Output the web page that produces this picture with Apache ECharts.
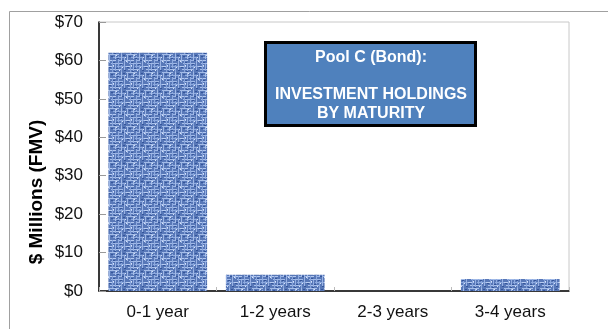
<!DOCTYPE html>
<html>
<head>
<meta charset="utf-8">
<script src="https://cdn.jsdelivr.net/npm/echarts@6/dist/echarts.min.js"></script>
<style>
html,body{margin:0;padding:0;background:#fff;}
#c{width:608px;height:329px;}
</style>
</head>
<body>
<div id="c"></div>
<script>
const categories = ['0-1 year', '1-2 years', '2-3 years', '3-4 years'];
const values = [62.0, 4.2, 0, 3.1];
const yTicks = [0, 10, 20, 30, 40, 50, 60, 70];
const yAxisTitle = '$ Millions (FMV)';
const titleLines = ['Pool C (Bond):', '', 'INVESTMENT HOLDINGS', 'BY MATURITY'];

function makePattern() {
  const c = document.createElement('canvas');
  c.width = 18; c.height = 18;
  const g = c.getContext('2d');
  g.fillStyle = '#5878b8';
  g.fillRect(0, 0, 18, 18);
  // horizontal threads (broken)
  const rows = [[0,'#a5bde8',0,11],[3,'#8eaadf',5,18],[6,'#b3c8ef',0,8],[6,'#9bb4e5',11,18],[9,'#a0b9e7',3,15],[12,'#b8ccf1',0,6],[12,'#8ca9de',9,18],[15,'#a9c0ea',2,13]];
  rows.forEach(r => { g.fillStyle = r[1]; g.fillRect(r[2], r[0], r[3] - r[2], 1); });
  // vertical threads (broken)
  const cols = [[1,'#9fb8e6',0,9],[4,'#86a3db',6,18],[7,'#a8bfe9',0,5],[7,'#93aee2',10,18],[10,'#8fabe0',2,14],[13,'#a2bae7',0,7],[13,'#89a6dc',11,18],[16,'#9ab3e4',4,16]];
  cols.forEach(r => { g.fillStyle = r[1]; g.fillRect(r[0], r[2], 1, r[3] - r[2]); });
  // dark flecks
  g.fillStyle = '#34559a';
  [[3,2],[9,4],[15,1],[5,8],[12,10],[1,13],[8,14],[16,16],[14,6],[6,17]].forEach(p => g.fillRect(p[0], p[1], 2, 1));
  g.fillStyle = '#d6e2f8';
  [[8,1],[0,7],[14,13],[5,11],[11,16],[17,3]].forEach(p => g.fillRect(p[0], p[1], 1, 1));
  return c;
}

const chart = echarts.init(document.getElementById('c'), null, {renderer: 'canvas'});
chart.setOption({
  animation: false,
  backgroundColor: '#fff',
  grid: {left: 99, right: 39, top: 22, bottom: 38, show: true, borderColor: '#c8c8c8', borderWidth: 1},
  xAxis: {
    type: 'category',
    data: categories,
    axisLine: {lineStyle: {color: '#000', width: 1.5}},
    axisTick: {show: true, inside: true, length: 4, lineStyle: {color: '#bbb'}},
    axisLabel: {color: '#111', fontFamily: 'Liberation Sans', fontSize: 17, margin: 13}
  },
  yAxis: {
    type: 'value',
    min: 0, max: 70, interval: 10,
    axisLine: {show: true, lineStyle: {color: '#000', width: 1.5}},
    axisTick: {show: true, inside: true, length: 7, lineStyle: {color: '#999'}},
    splitLine: {show: false},
    axisLabel: {
      color: '#111', fontFamily: 'Liberation Sans', fontSize: 17, margin: 16,
      formatter: v => yTicks.includes(v) ? '$' + v : ''
    }
  },
  series: [{
    type: 'bar',
    data: values,
    barCategoryGap: '16%',
    itemStyle: {color: {image: makePattern(), repeat: 'repeat'}}
  }],
  graphic: [{
    type: 'text',
    x: 37, y: 192,
    rotation: Math.PI / 2,
    style: {
      text: yAxisTitle,
      fill: '#000',
      font: 'bold 19px "Liberation Sans", Arial, sans-serif',
      align: 'center',
      verticalAlign: 'middle'
    }
  }, {
    type: 'group',
    left: 264, top: 41,
    children: [{
      type: 'rect',
      shape: {x: 1.5, y: 1.5, width: 210, height: 83},
      style: {fill: '#4f81bd', stroke: '#000', lineWidth: 3}
    }, {
      type: 'text',
      x: 107, y: 7,
      style: {
        text: titleLines.join('\n'),
        fill: '#fff',
        font: 'bold 16px "Liberation Sans", Arial, sans-serif',
        align: 'center',
        verticalAlign: 'top',
        lineHeight: 18.7
      }
    }]
  }, {
    type: 'rect',
    left: 7, top: 9,
    shape: {width: 620, height: 340},
    style: {fill: 'none', stroke: '#a0a0a0', lineWidth: 1},
    silent: true
  }]
});
</script>
</body>
</html>
